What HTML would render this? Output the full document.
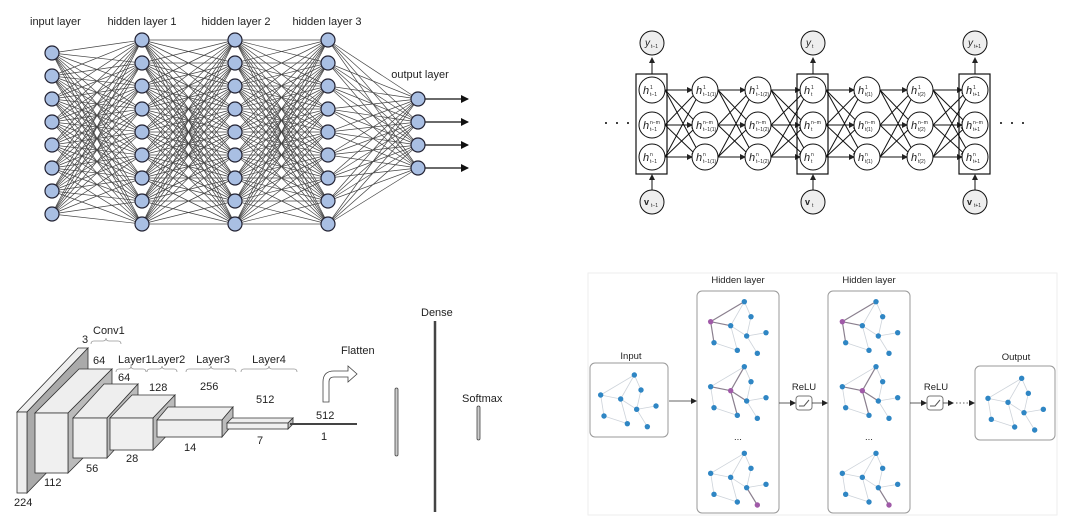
<!DOCTYPE html>
<html><head><meta charset="utf-8"><style>
body{margin:0;background:#fff;width:1080px;height:531px;overflow:hidden}
svg{display:block}
text{font-family:"Liberation Sans",sans-serif;fill:#222}
</style></head><body>
<svg id="s" width="1080" height="531" viewBox="0 0 1080 531" xmlns="http://www.w3.org/2000/svg">
<defs>
<marker id="ah" markerWidth="8" markerHeight="8" refX="7" refY="4" orient="auto" markerUnits="userSpaceOnUse"><path d="M0,0 L8,4 L0,8z" fill="#111"/></marker>
<marker id="as" markerWidth="6" markerHeight="6" refX="5" refY="3" orient="auto" markerUnits="userSpaceOnUse"><path d="M0,0 L6,3 L0,6z" fill="#222"/></marker>
</defs>
<g id="q1"></g>
<g font-size="11">
<text x="30" y="25">input layer</text>
<text x="142" y="25" text-anchor="middle">hidden layer 1</text>
<text x="236" y="25" text-anchor="middle">hidden layer 2</text>
<text x="327" y="25" text-anchor="middle">hidden layer 3</text>
<text x="420" y="78" text-anchor="middle">output layer</text>
</g>
<g id="q2"></g>
<g id="q3">
<polygon points="17,412 27,412 88,348 78,348" fill="#eee" stroke="#333" stroke-width="0.8"/>
<polygon points="27,412 88,348 88,430 27,493" fill="#aaa" stroke="#333" stroke-width="0.8"/>
<rect x="17" y="412" width="10" height="81" fill="#eee" stroke="#333" stroke-width="0.8"/>
<polygon points="35,413 68,413 112,369 79,369" fill="#eee" stroke="#333" stroke-width="0.8"/>
<polygon points="68,413 112,369 112,429 68,473" fill="#bbb" stroke="#333" stroke-width="0.8"/>
<rect x="35" y="413" width="33" height="60" fill="#f0f0f0" stroke="#333" stroke-width="0.8"/>
<polygon points="73,418 107,418 138,384 104,384" fill="#eee" stroke="#333" stroke-width="0.8"/>
<polygon points="107,418 138,384 138,424 107,458" fill="#bbb" stroke="#333" stroke-width="0.8"/>
<rect x="73" y="418" width="34" height="40" fill="#f0f0f0" stroke="#333" stroke-width="0.8"/>
<polygon points="110,418 153,418 175,395 132,395" fill="#eee" stroke="#333" stroke-width="0.8"/>
<polygon points="153,418 175,395 175,427 153,450" fill="#bbb" stroke="#333" stroke-width="0.8"/>
<rect x="110" y="418" width="43" height="32" fill="#f0f0f0" stroke="#333" stroke-width="0.8"/>
<polygon points="157,420 222,420 233,407 168,407" fill="#eee" stroke="#333" stroke-width="0.8"/>
<polygon points="222,420 233,407 233,424 222,437" fill="#bbb" stroke="#333" stroke-width="0.8"/>
<rect x="157" y="420" width="65" height="17" fill="#f0f0f0" stroke="#333" stroke-width="0.8"/>
<polygon points="227,423 288,423 293,418 232,418" fill="#eee" stroke="#333" stroke-width="0.8"/>
<polygon points="288,423 293,418 293,424 288,429" fill="#bbb" stroke="#333" stroke-width="0.8"/>
<rect x="227" y="423" width="61" height="6" fill="#f0f0f0" stroke="#333" stroke-width="0.8"/>
<line x1="290" y1="424" x2="357" y2="424" stroke="#444" stroke-width="2"/>
<path d="M323,402 L323,382 Q323,371 334,371 L348,371 L348,366 L357,374 L348,382 L348,377 L334,377 Q329,377 329,382 L329,402 Z" fill="#fff" stroke="#444" stroke-width="0.8"/>
<rect x="395" y="388" width="3" height="68" rx="1.5" fill="#ccc" stroke="#444" stroke-width="0.8"/>
<line x1="435" y1="321" x2="435" y2="512" stroke="#444" stroke-width="2.5"/>
<rect x="477" y="406" width="3" height="34" rx="1.5" fill="#ccc" stroke="#444" stroke-width="0.8"/>
<g fill="none" stroke="#999" stroke-width="0.8">
<path d="M91,344 q0,-3 3,-3 l9,0 q3,0 3,-3 q0,3 3,3 l9,0 q3,0 3,3"/>
<path d="M116,372 q0,-3 3,-3 l9,0 q3,0 3,-3 q0,3 3,3 l9,0 q3,0 3,3"/>
<path d="M147,372 q0,-3 3,-3 l9,0 q3,0 3,-3 q0,3 3,3 l9,0 q3,0 3,3"/>
<path d="M186,372 q0,-3 3,-3 l19,0 q3,0 3,-3 q0,3 3,3 l19,0 q3,0 3,3"/>
<path d="M241,372 q0,-3 3,-3 l22,0 q3,0 3,-3 q0,3 3,3 l22,0 q3,0 3,3"/>
</g>
<g font-size="11">
<text x="93" y="334">Conv1</text>
<text x="82" y="343">3</text>
<text x="93" y="364">64</text>
<text x="118" y="363">Layer1Layer2</text>
<text x="213" y="363" text-anchor="middle">Layer3</text>
<text x="269" y="363" text-anchor="middle">Layer4</text>
<text x="118" y="381">64</text>
<text x="149" y="391">128</text>
<text x="200" y="390">256</text>
<text x="256" y="403">512</text>
<text x="316" y="419">512</text>
<text x="321" y="440">1</text>
<text x="257" y="444">7</text>
<text x="184" y="451">14</text>
<text x="126" y="462">28</text>
<text x="86" y="472">56</text>
<text x="44" y="486">112</text>
<text x="14" y="506">224</text>
<text x="341" y="354">Flatten</text>
<text x="421" y="316">Dense</text>
<text x="462" y="402">Softmax</text>
</g>
</g>
<g id="q4">
<rect x="588" y="273" width="469" height="242" fill="none" stroke="#eee"/>
<rect x="590" y="363" width="78" height="74" rx="5" fill="#fff" stroke="#999"/>
<rect x="697" y="291" width="82" height="222" rx="5" fill="#fff" stroke="#999"/>
<rect x="828" y="291" width="82" height="222" rx="5" fill="#fff" stroke="#999"/>
<rect x="975" y="366" width="80" height="74" rx="5" fill="#fff" stroke="#999"/>
<rect x="796" y="396" width="16" height="14" rx="3" fill="#fff" stroke="#777"/>
<rect x="927" y="396" width="16" height="14" rx="3" fill="#fff" stroke="#777"/>
<path d="M799,406 l5,0 l5,-6 M930,406 l5,0 l5,-6" fill="none" stroke="#555"/>
<g stroke="#333" stroke-width="0.8" marker-end="url(#as)">
<line x1="669" y1="401" x2="696" y2="401"/>
<line x1="779" y1="403" x2="795" y2="403"/>
<line x1="812" y1="403" x2="827" y2="403"/>
<line x1="910" y1="403" x2="926" y2="403"/>
<line x1="943" y1="403" x2="953" y2="403"/>
<line x1="956" y1="403" x2="974" y2="403" stroke-dasharray="1.5,2"/>
</g>
<g font-size="9.5">
<text x="631" y="359" text-anchor="middle">Input</text>
<text x="738" y="283" text-anchor="middle">Hidden layer</text>
<text x="869" y="283" text-anchor="middle">Hidden layer</text>
<text x="1016" y="360" text-anchor="middle">Output</text>
<text x="804" y="390" text-anchor="middle">ReLU</text>
<text x="936" y="390" text-anchor="middle">ReLU</text>
<text x="738" y="440" text-anchor="middle" fill="#aaa">...</text>
<text x="869" y="440" text-anchor="middle" fill="#aaa">...</text>
</g>
</g>
<g font-size="18" fill="#222"><text x="603" y="128">· · ·</text><text x="998" y="128">· · ·</text></g>
</svg>
<script>
var NS="http://www.w3.org/2000/svg";
function el(p,t,a){var e=document.createElementNS(NS,t);for(var k in a)e.setAttribute(k,a[k]);document.getElementById(p).appendChild(e);return e;}
var L=[[52,8,53],[142,9,40],[235,9,40],[328,9,40],[418,4,99]],P=[];
L.forEach(function(l){var a=[];for(var i=0;i<l[1];i++)a.push([l[0],l[2]+i*23]);P.push(a);});
for(var k=0;k<4;k++)P[k].forEach(function(a){P[k+1].forEach(function(b){el("q1","line",{x1:a[0],y1:a[1],x2:b[0],y2:b[1],stroke:"#444","stroke-width":0.7});});});
P[4].forEach(function(b){el("q1","line",{x1:b[0]+7,y1:b[1],x2:468,y2:b[1],stroke:"#111","stroke-width":1.3,"marker-end":"url(#ah)"});});
P.forEach(function(a){a.forEach(function(b){el("q1","circle",{cx:b[0],cy:b[1],r:7,fill:"#a9bfe3",stroke:"#223",'stroke-width':1.2});});});
var X=[652,705,758,813,867,920,975],Y=[90,125,157];
for(var c=0;c<6;c++)for(var i=0;i<3;i++)for(var j=0;j<3;j++){
 var x1=X[c]+13,x2=X[c+1]-13;var dy=Y[j]-Y[i],dx=x2-x1,len=Math.sqrt(dx*dx+dy*dy);
 el("q2","line",{x1:x1,y1:Y[i],x2:X[c+1]-13*Math.abs(dx)/len*1,y2:Y[j]-dy/len*2,stroke:"#111","stroke-width":1,"marker-end":"url(#as)"});}
[0,3,6].forEach(function(c){var x=X[c];el("q2","rect",{x:x-16,y:74,width:31,height:100,fill:"none",stroke:"#111","stroke-width":1.2});
 el("q2","line",{x1:x,y1:74,x2:x,y2:58,stroke:"#111","marker-end":"url(#as)"});
 el("q2","line",{x1:x,y1:190,x2:x,y2:175,stroke:"#111","marker-end":"url(#as)"});
 el("q2","circle",{cx:x,cy:43,r:12,fill:"#eee",stroke:"#111"});el("q2","circle",{cx:x,cy:202,r:12,fill:"#eee",stroke:"#111"});});
var lab=["t−1","t−1(1)","t−1(2)","t","t(1)","t(2)","t+1"],sup=["1","n−m","n"];
X.forEach(function(x,c){Y.forEach(function(y,i){el("q2","circle",{cx:x,cy:y,r:13,fill:"#fff",stroke:"#111"});
 var t=el("q2","text",{x:x-9,y:y+4,"font-size":11,"font-family":"Liberation Serif,serif","font-style":"italic"});t.textContent="h";
 var s=el("q2","text",{x:x-2,y:y-1,"font-size":5,"font-family":"Liberation Serif,serif"});s.textContent=sup[i];
 var b=el("q2","text",{x:x-2,y:y+6,"font-size":5,"font-family":"Liberation Serif,serif"});b.textContent=lab[c];});});
[[0,"t−1"],[3,"t"],[6,"t+1"]].forEach(function(p){var x=X[p[0]];
 var t=el("q2","text",{x:x-7,y:46,"font-size":10,"font-family":"Liberation Serif,serif","font-style":"italic"});t.textContent="y";
 var b=el("q2","text",{x:x-1,y:48,"font-size":5});b.textContent=p[1];
 var v=el("q2","text",{x:x-8,y:205,"font-size":9,"font-weight":"bold","font-family":"Liberation Serif,serif"});v.textContent="v";
 var b2=el("q2","text",{x:x-1,y:207,"font-size":5});b2.textContent=p[1];});
var N=[[163,330],[62,390],[183,375],[122,402],[170,433],[228,423],[72,453],[142,476],[202,485]];
var E=[[0,1],[0,2],[0,3],[1,3],[1,6],[6,7],[3,7],[3,4],[2,4],[4,5],[4,8]];
var G=[[0,0,-1],[330,-220,1],[330,-25,3],[330,235,8],[725,-220,1],[725,-25,3],[725,235,8],[1162,10,-1]];
function pt(n,g){return [580+(N[n][0]+g[0])/3,265+(N[n][1]+g[1])/3];}
G.forEach(function(g){E.forEach(function(e){var a=pt(e[0],g),b=pt(e[1],g);var h=(e[0]==g[2]||e[1]==g[2]);
 el("q4","line",{x1:a[0],y1:a[1],x2:b[0],y2:b[1],stroke:h?"#8a7f8e":"#cdd3da","stroke-width":h?1.2:0.8});});
 N.forEach(function(n,i){var p=pt(i,g);el("q4","circle",{cx:p[0],cy:p[1],r:2.7,fill:i==g[2]?"#a05aa8":"#2f86c4"});});});
</script>
</body></html>
